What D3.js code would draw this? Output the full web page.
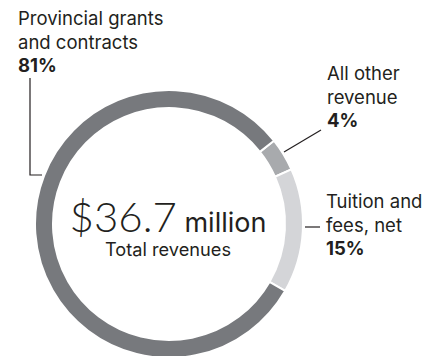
<!DOCTYPE html>
<html>
<head>
<meta charset="utf-8">
<script src="https://cdn.jsdelivr.net/npm/d3@7"></script>
<style>
  html, body { margin: 0; padding: 0; background: #fff; }
  svg { display: block; font-family: Inter, "Open Sans", sans-serif; }
</style>
</head>
<body>
<svg id="chart" width="435" height="356"></svg>
<script>
// Revenue breakdown, drawn clockwise starting from "All other revenue"
const categories = ["All other revenue", "Tuition and fees, net", "Provincial grants and contracts"];
const shares = [4, 15, 81];
const colours = ["#a8aaad", "#d4d5d8", "#77797d"];
const totalLabel = "$36.7";
const totalUnit = "million";
const totalCaption = "Total revenues";

const svg = d3.select("#chart");
const cx = 169, cy = 224;
const outerR = 134, innerR = 116;
const start = 0.9; // radians clockwise from 12 o'clock

const pie = d3.pie().sort(null).value(d => d.value)
  .startAngle(start).endAngle(start + 2 * Math.PI);
const arc = d3.arc().innerRadius(innerR).outerRadius(outerR);

const data = categories.map((c, i) => ({ name: c, value: shares[i], colour: colours[i] }));

const g = svg.append("g").attr("transform", `translate(${cx},${cy})`);
g.selectAll("path").data(pie(data)).join("path")
  .attr("d", arc)
  .attr("fill", d => d.data.colour)
  .attr("stroke", "#fff")
  .attr("stroke-width", 2);

// Centre total
const centre = svg.append("text").attr("x", cx - 1).attr("y", 232)
  .attr("text-anchor", "middle").attr("fill", "#231f20");
centre.append("tspan").text(totalLabel).attr("font-size", 42).attr("font-weight", 300)
  .attr("font-family", "Lato, Inter, sans-serif");
centre.append("tspan").text(" " + totalUnit).attr("font-size", 27).attr("font-weight", 400);
svg.append("text").attr("x", cx - 1).attr("y", 256).attr("text-anchor", "middle")
  .attr("font-size", 18.2).attr("fill", "#231f20").text(totalCaption);

// Callout labels
function callout(x, y, lines, pct) {
  const t = svg.append("text").attr("x", x).attr("y", y).attr("font-size", 18.5).attr("fill", "#231f20");
  lines.forEach((l, i) => t.append("tspan").attr("x", x).attr("dy", i === 0 ? 0 : 23.5).text(l));
  t.append("tspan").attr("x", x).attr("dy", 23.5).attr("font-weight", 700).text(pct + "%");
}
callout(18, 25, ["Provincial grants", "and contracts"], shares[2]);
callout(327, 80, ["All other", "revenue"], shares[0]);
callout(326, 208, ["Tuition and", "fees, net"], shares[1]);

// Leader lines
const line = d3.line();
const leaders = [
  [[30, 78], [30, 175], [42, 175]],
  [[321, 130], [284, 152]],
  [[305, 227], [320, 227]]
];
svg.selectAll("path.leader").data(leaders).join("path")
  .attr("class", "leader")
  .attr("d", d => line(d))
  .attr("fill", "none")
  .attr("stroke", "#231f20")
  .attr("stroke-width", 1.2);
</script>
</body>
</html>
